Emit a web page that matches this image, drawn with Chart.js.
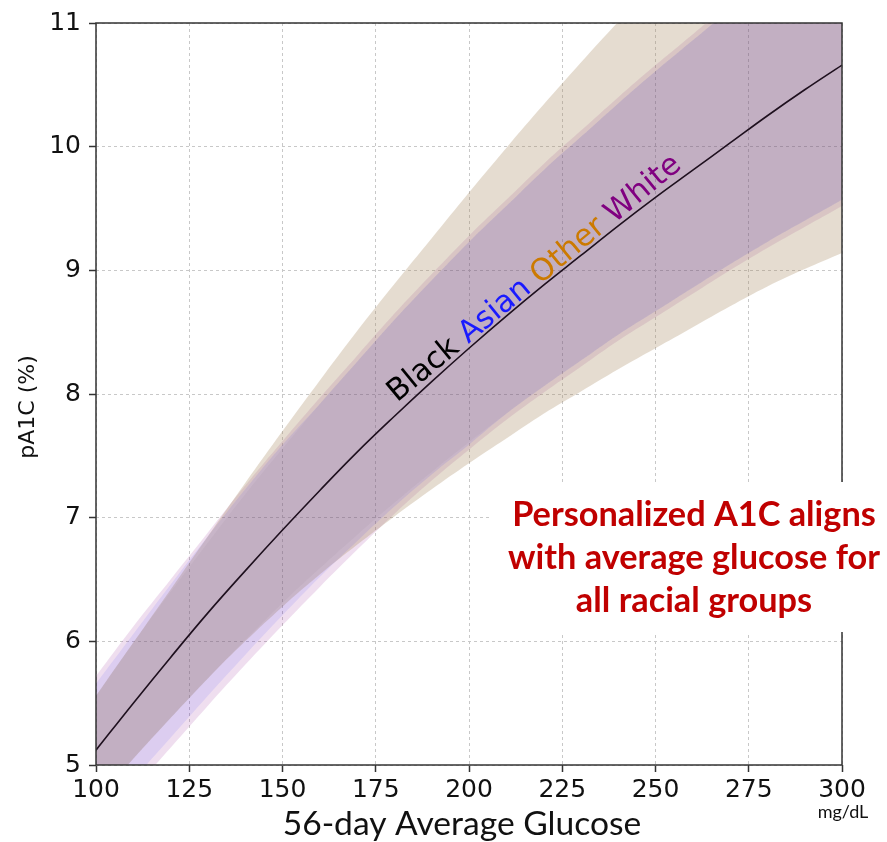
<!DOCTYPE html>
<html>
<head>
<meta charset="utf-8">
<script src="https://cdn.jsdelivr.net/npm/chart.js@4.4.0/dist/chart.umd.min.js"></script>
<style>
  html, body { margin: 0; padding: 0; background: #fff; }
  #wrap { width: 887px; height: 842px; position: relative; }
</style>
</head>
<body>
<div id="wrap"><canvas id="chart"></canvas></div>
<script>
// 56-day average glucose (mg/dL)
const glucose = [100, 110, 120, 130, 140, 150, 160, 170, 180, 190, 200,
                 210, 220, 230, 240, 250, 260, 270, 280, 290, 300];

// central pA1C curve
const pA1C = [5.12, 5.50, 5.87, 6.23, 6.57, 6.90, 7.22, 7.53, 7.82, 8.10, 8.37,
              8.63, 8.88, 9.12, 9.36, 9.59, 9.81, 10.03, 10.25, 10.46, 10.66];

// band per racial group (upper / lower)
const blackUpper = [5.56, 5.99, 6.40, 6.80, 7.19, 7.56, 7.92, 8.26, 8.60, 8.92, 9.23,
                    9.52, 9.81, 10.08, 10.35, 10.61, 10.86, 11.11, 11.35, 11.58, 11.80];
const blackLower = [4.71, 5.05, 5.38, 5.70, 6.01, 6.31, 6.59, 6.86, 7.12, 7.37, 7.61,
                    7.84, 8.06, 8.27, 8.48, 8.67, 8.86, 9.05, 9.23, 9.40, 9.57];
const asianUpper = [5.66, 6.06, 6.46, 6.85, 7.23, 7.59, 7.92, 8.26, 8.60, 8.92, 9.23,
                    9.52, 9.81, 10.08, 10.35, 10.61, 10.86, 11.11, 11.35, 11.58, 11.80];
const asianLower = [4.53, 4.88, 5.22, 5.56, 5.89, 6.21, 6.52, 6.81, 7.09, 7.35, 7.59,
                    7.84, 8.06, 8.27, 8.48, 8.67, 8.86, 9.05, 9.23, 9.40, 9.57];
const otherUpper = [5.56, 5.99, 6.42, 6.85, 7.28, 7.70, 8.11, 8.51, 8.89, 9.26, 9.63,
                    9.99, 10.34, 10.68, 11.01, 11.33, 11.64, 11.94, 12.23, 12.52, 12.80];
const otherLower = [4.71, 5.05, 5.38, 5.70, 6.00, 6.28, 6.54, 6.78, 7.01, 7.23, 7.44,
                    7.64, 7.84, 8.02, 8.20, 8.37, 8.54, 8.71, 8.87, 9.01, 9.14];
const whiteUpper = [5.72, 6.12, 6.50, 6.88, 7.26, 7.62, 7.97, 8.31, 8.65, 8.97, 9.28,
                    9.57, 9.86, 10.13, 10.40, 10.66, 10.91, 11.16, 11.40, 11.63, 11.85];
const whiteLower = [4.45, 4.80, 5.14, 5.48, 5.81, 6.13, 6.44, 6.74, 7.03, 7.30, 7.55,
                    7.79, 8.01, 8.22, 8.43, 8.62, 8.81, 9.00, 9.18, 9.35, 9.52];

const groupNames = ['Black', 'Asian', 'Other', 'White'];
const groupColors = ['#000000', '#1a1aff', '#cc7a00', '#800080'];
const noteLines = ['Personalized A1C aligns', 'with average glucose for', 'all racial groups'];

const toPts = arr => glucose.map((g, i) => ({ x: g, y: arr[i] }));

function band(label, upper, lower, fillColor) {
    const common = {
        borderWidth: 0,
        pointRadius: 0,
        tension: 0.4
    };
    return [
        Object.assign({ label: label + ' upper', data: toPts(upper), fill: '+1', backgroundColor: fillColor }, common),
        Object.assign({ label: label + ' lower', data: toPts(lower), fill: false }, common)
    ];
}

const overlay = {
    id: 'overlay',
    afterDatasetsDraw(chart) {
        const ctx = chart.ctx;
        const xs = chart.scales.x, ys = chart.scales.y;
        // group names along the curve
        ctx.save();
        ctx.translate(xs.getPixelForValue(180.7), ys.getPixelForValue(7.93));
        ctx.rotate(-39.5 * Math.PI / 180);
        ctx.font = '30.5px "DejaVu Sans"';
        ctx.textBaseline = 'alphabetic';
        let px = 0;
        groupNames.forEach((name, i) => {
            ctx.fillStyle = groupColors[i];
            ctx.fillText(name, px, 0);
            px += ctx.measureText(name + ' ').width;
        });
        ctx.restore();
    },
    afterDraw(chart) {
        const ctx = chart.ctx;
        const a = chart.chartArea;
        ctx.save();
        // frame
        ctx.strokeStyle = '#333';
        ctx.lineWidth = 1.5;
        ctx.strokeRect(a.left, a.top, a.right - a.left, a.bottom - a.top);

        // white box behind the note
        ctx.fillStyle = '#fff';
        ctx.fillRect(492, 482, 395, 150);
        ctx.fillStyle = '#c00000';
        ctx.textAlign = 'center';
        ctx.textBaseline = 'middle';
        ctx.font = 'bold 27px Lato';
        const w = ctx.measureText(noteLines[1]).width;
        const fs = 27 * 372 / w;
        ctx.font = 'bold ' + fs.toFixed(1) + 'px Lato';
        noteLines.forEach((t, i) => ctx.fillText(t, 694, 515 + i * 43));

        // axis titles
        ctx.fillStyle = '#111';
        ctx.font = '30px Lato';
        const tw = ctx.measureText('56-day Average Glucose').width;
        ctx.font = (30 * 359 / tw).toFixed(1) + 'px Lato';
        ctx.fillText('56-day Average Glucose', 462, 824);
        ctx.font = '18px Lato';
        ctx.fillText('mg/dL', 843, 812);

        ctx.translate(28, 407);
        ctx.rotate(-Math.PI / 2);
        ctx.font = '22px "DejaVu Sans"';
        ctx.fillStyle = '#111';
        ctx.fillText('pA1C (%)', 0, 0);
        ctx.restore();
    }
};

const datasets = [
    {
        label: 'pA1C',
        data: toPts(pA1C),
        borderColor: '#1e101e',
        borderWidth: 1.6,
        pointRadius: 0,
        fill: false,
        tension: 0.4
    },
    ...band('Black', blackUpper, blackLower, 'rgba(0, 0, 0, 0.03)'),
    ...band('Asian', asianUpper, asianLower, 'rgba(0, 0, 255, 0.08)'),
    ...band('Other', otherUpper, otherLower, 'rgba(170, 140, 100, 0.30)'),
    ...band('White', whiteUpper, whiteLower, 'rgba(128, 0, 128, 0.13)')
];

new Chart(document.getElementById('chart'), {
    type: 'line',
    data: { datasets: datasets },
    options: {
        responsive: true,
        maintainAspectRatio: false,
        animation: false,
        layout: { padding: { top: 20, right: 45, left: 0, bottom: 0 } },
        plugins: {
            legend: { display: false },
            tooltip: { enabled: false }
        },
        scales: {
            x: {
                type: 'linear',
                min: 100,
                max: 300,
                afterFit: scale => { scale.height = 77; },
                ticks: {
                    stepSize: 25,
                    color: '#111',
                    padding: 3,
                    font: { family: 'DejaVu Sans', size: 25 }
                },
                grid: {
                    color: '#c8c8c8',
                    lineWidth: 1,
                    tickLength: 7,
                    tickColor: '#333',
                    tickWidth: 1.5,
                    tickBorderDash: []
                },
                border: { display: false, dash: [3, 3] }
            },
            y: {
                min: 5,
                max: 11,
                afterFit: scale => { scale.width = 96; },
                ticks: {
                    stepSize: 1,
                    color: '#111',
                    padding: 8,
                    font: { family: 'DejaVu Sans', size: 25 }
                },
                grid: {
                    color: '#c8c8c8',
                    lineWidth: 1,
                    tickLength: 7,
                    tickColor: '#333',
                    tickWidth: 1.5,
                    tickBorderDash: []
                },
                border: { display: false, dash: [3, 3] }
            }
        }
    },
    plugins: [overlay]
});
</script>
</body>
</html>
